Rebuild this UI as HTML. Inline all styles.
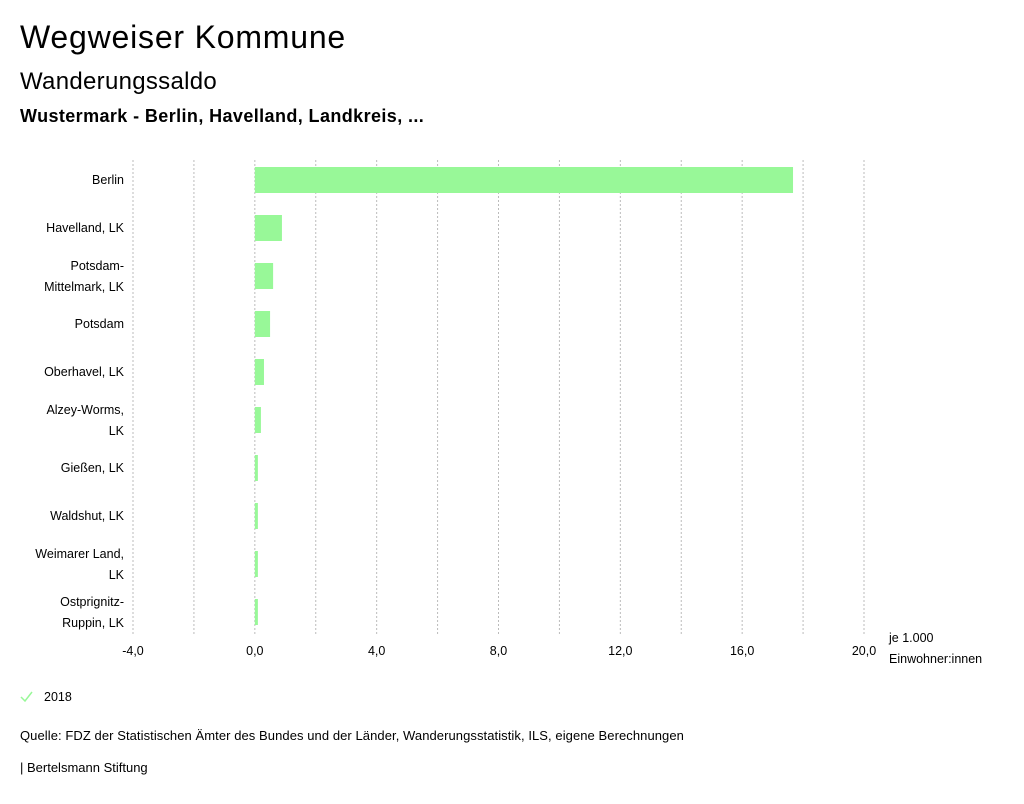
<!DOCTYPE html>
<html><head><meta charset="utf-8"><style>
body{margin:0;background:#fff;font-family:"Liberation Sans","DejaVu Sans",sans-serif;color:#000}
svg text{font-family:"Liberation Sans","DejaVu Sans",sans-serif}
</style></head><body>
<svg id="chart" width="1024" height="799" xmlns="http://www.w3.org/2000/svg">
<text x="20" y="48" font-size="32" letter-spacing="0.8">Wegweiser Kommune</text>
<text x="20" y="89" font-size="24" letter-spacing="0.3">Wanderungssaldo</text>
<text x="20" y="122" font-size="18" font-weight="bold" letter-spacing="0.4">Wustermark - Berlin, Havelland, Landkreis, ...</text>
<g id="grid"></g><g id="bars"></g><g id="ylabels"></g><g id="xlabels"></g>
<text x="889" y="642" font-size="12.5">je 1.000</text>
<text x="889" y="663" font-size="12.5">Einwohner:innen</text>
<g>
<path d="M21 697 L25 701 L32 692" stroke="#98f898" stroke-width="1.5" fill="none"/>
<text x="44" y="701" font-size="12.5">2018</text>
</g>
<text x="20" y="740" font-size="13" letter-spacing="0.07">Quelle: FDZ der Statistischen Ämter des Bundes und der Länder, Wanderungsstatistik, ILS, eigene Berechnungen</text>
<text x="20" y="772" font-size="13">| Bertelsmann Stiftung</text>
</svg>
<script>
const categories=[["Berlin"],["Havelland, LK"],["Potsdam-","Mittelmark, LK"],["Potsdam"],["Oberhavel, LK"],["Alzey-Worms,","LK"],["Gießen, LK"],["Waldshut, LK"],["Weimarer Land,","LK"],["Ostprignitz-","Ruppin, LK"]];
const values=[17.67,0.89,0.6,0.5,0.3,0.2,0.1,0.1,0.1,0.1];
const gridTicks=[-4,-2,0,2,4,6,8,10,12,14,16,18,20];
const labelTicks=[-4,0,4,8,12,16,20];
const xMin=-4,xMax=20,x0=133,x1=864;
const yTop=160,step=48,barH=26;
const X=v=>x0+(v-xMin)/(xMax-xMin)*(x1-x0);
const Y=i=>yTop+step*i+step/2-4;
const NS="http://www.w3.org/2000/svg";
function mk(tag,attrs,parent,txt){const e=document.createElementNS(NS,tag);for(const k in attrs)e.setAttribute(k,attrs[k]);if(txt!==undefined)e.textContent=txt;document.getElementById(parent).appendChild(e);return e;}
gridTicks.forEach(t=>{const l=mk("line",{x1:X(t),x2:X(t),y1:160,y2:635,stroke:"#bbb","stroke-width":1,"stroke-dasharray":"2,2"},"grid");

});
labelTicks.forEach(t=>{const e=mk("text",{x:X(t),y:655,"font-size":12.5,"text-anchor":"middle"},"xlabels",t.toFixed(1).replace(".",","));

});
values.forEach((v,i)=>{const a=Math.min(X(0),X(v)),w=Math.abs(X(v)-X(0));
const r=mk("rect",{x:a,y:Y(i)-barH/2,width:w,height:barH,fill:"#98f898"},"bars");


const lines=categories[i];
lines.forEach((s,j)=>{const yy=lines.length===1?Y(i)+4:Y(i)-6+j*21;
const t=mk("text",{x:124,y:yy,"font-size":12.5,"text-anchor":"end"},"ylabels",s);

});});
</script>
</body></html>
